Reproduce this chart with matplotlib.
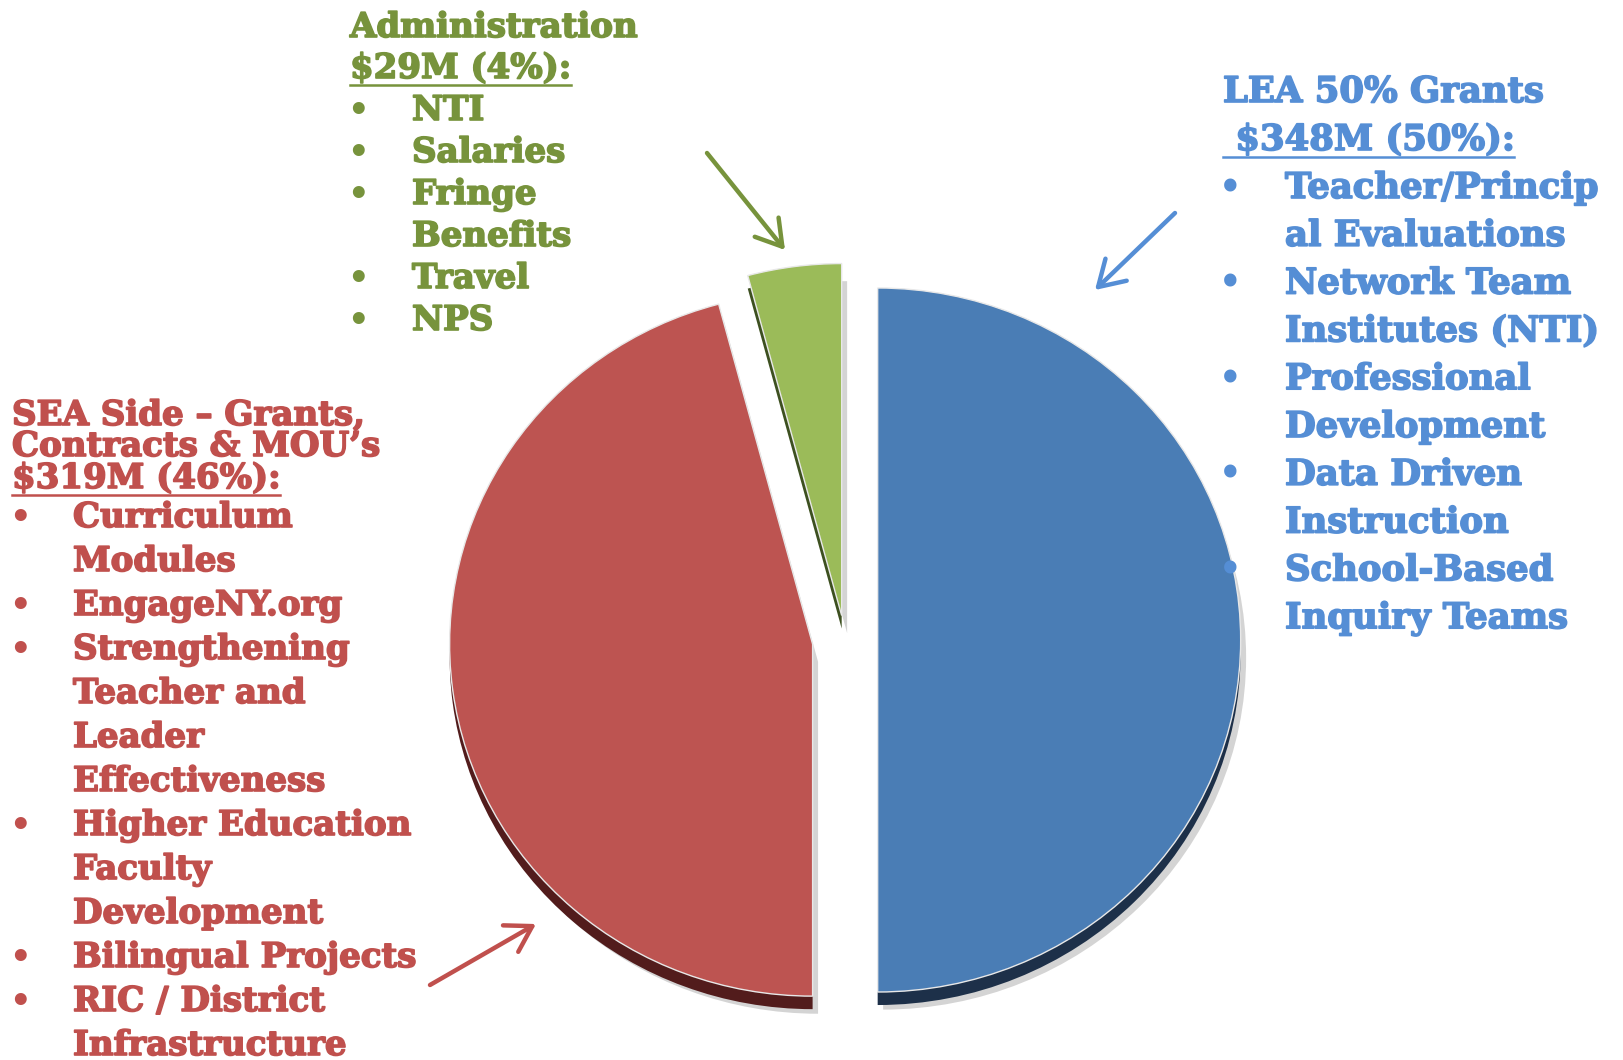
import matplotlib.pyplot as plt
import matplotlib.patheffects as pe

# budget split ($M) - LEA grants, SEA side, administration
amounts = [348, 319, 29]
pcts = [50, 46, 4]
face_colors = ['#4a7db5', '#bd5451', '#9bbb59']
rim_colors = ['#1d3049', '#521c1c', '#3d5020']
text_colors = ['#558ed5', '#c0504d', '#77933c']

lea_header = ['LEA 50% Grants', ' $348M (50%):']
lea_items = [['Teacher/Princip', 'al Evaluations'], ['Network Team', 'Institutes (NTI)'],
             ['Professional', 'Development'], ['Data Driven', 'Instruction'],
             ['School-Based', 'Inquiry Teams']]

sea_header = ['SEA Side \u2013 Grants,', 'Contracts & MOU\u2019s', '$319M (46%):']
sea_items = [['Curriculum', 'Modules'], ['EngageNY.org'],
             ['Strengthening', 'Teacher and', 'Leader', 'Effectiveness'],
             ['Higher Education', 'Faculty', 'Development'], ['Bilingual Projects'],
             ['RIC / District', 'Infrastructure']]

adm_header = ['Administration', '$29M (4%):']
adm_items = [['NTI'], ['Salaries'], ['Fringe', 'Benefits'], ['Travel'], ['NPS']]

W, H = 1623, 1060
fig = plt.figure(figsize=(W / 100, H / 100), dpi=100)

# pie axes, slightly squashed like the tilted 3d pie
cx, cy, rx, ry = 845, 640, 363, 352
pw, ph = 2.6 * rx, 2.6 * ry
pax = fig.add_axes([(cx - pw / 2) / W, (H - cy - ph / 2) / H, pw / W, ph / H])
explode = [0.09, 0.09, 0.07]
pax.pie(amounts, explode=explode, startangle=90, counterclock=False,
        colors=['#a0a0a0'] * 3, center=(0.015, -0.05),
        wedgeprops=dict(linewidth=0, alpha=0.45))
pax.pie(amounts, explode=explode, startangle=90, counterclock=False,
        colors=rim_colors, center=(0, -0.037), wedgeprops=dict(linewidth=0))
pax.pie(amounts, explode=explode, startangle=90, counterclock=False,
        colors=face_colors, wedgeprops=dict(linewidth=1.0, edgecolor='#e8e8e8'))
pax.set_aspect('auto')
pax.set_xlim(-1.3, 1.3)
pax.set_ylim(-1.3, 1.3)
pax.axis('off')

ax = fig.add_axes([0, 0, 1, 1])
ax.set_xlim(0, W)
ax.set_ylim(H, 0)
ax.axis('off')

FONT = dict(family='DejaVu Serif', weight='bold')
renderer = fig.canvas.get_renderer()


def draw_block(header, head_base, items, item_base, step, x_head, x_bul, x_item, color, fs):
    heavy = [pe.withStroke(linewidth=1.2, foreground=color)]
    for i, line in enumerate(header):
        t = ax.text(x_head, head_base[i], line, color=color, fontsize=fs, va='baseline',
                    ha='left', path_effects=heavy, **FONT)
        if i == len(header) - 1:
            bb = t.get_window_extent(renderer).transformed(ax.transData.inverted())
            ax.plot([bb.x0, bb.x1], [head_base[i] + 7, head_base[i] + 7], color=color, lw=1.8)
    y = item_base
    for item in items:
        ax.text(x_bul, y, '\u2022', color=color, fontsize=fs, va='baseline', ha='center', **FONT)
        for line in item:
            ax.text(x_item, y, line, color=color, fontsize=fs, va='baseline', ha='left',
                    path_effects=heavy, **FONT)
            y += step


draw_block(lea_header, [102, 150], lea_items, 198, 47.8, 1223, 1230, 1285, text_colors[0], 25.5)
draw_block(sea_header, [425, 456, 488], sea_items, 527, 44, 12, 20, 73, text_colors[1], 24.5)
draw_block(adm_header, [37, 78], adm_items, 120, 42, 350, 358, 412, text_colors[2], 24.5)

# arrows pointing at the slices
arrows = [((1175, 213), (1095, 290)), ((430, 985), (536, 924)), ((707, 153), (785, 250))]
for (tail, head), c in zip(arrows, text_colors):
    ax.annotate('', xy=head, xytext=tail,
                arrowprops=dict(arrowstyle='->,head_length=0.9,head_width=0.55',
                                lw=3.2, color=c, shrinkA=0, shrinkB=0,
                                mutation_scale=20))

fig.savefig('out.png', dpi=100)
